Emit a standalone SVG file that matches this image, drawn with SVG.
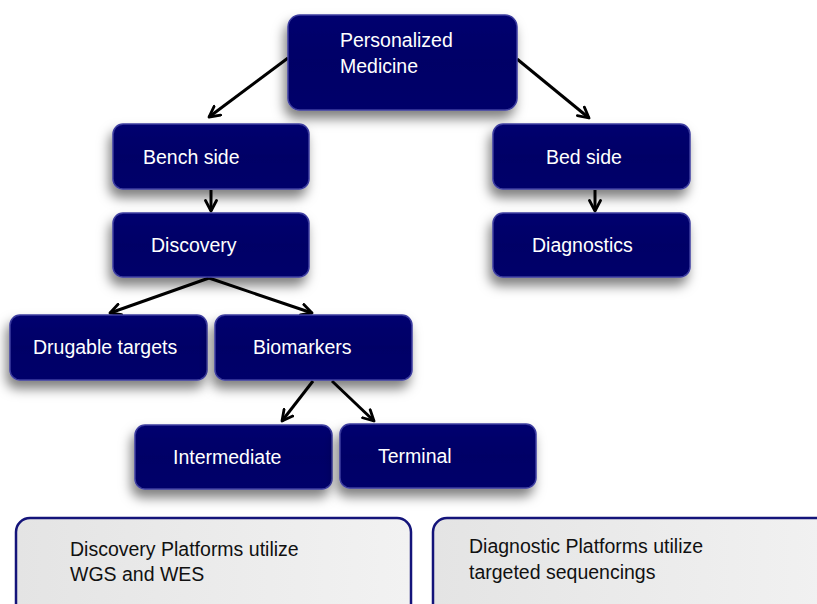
<svg xmlns="http://www.w3.org/2000/svg" width="817" height="604" viewBox="0 0 817 604">
<defs>
<filter id="sh" x="-20%" y="-25%" width="140%" height="170%">
<feDropShadow dx="-3" dy="8" stdDeviation="6" flood-color="#000" flood-opacity="0.5"/>
</filter>
<linearGradient id="navy" x1="0" y1="0" x2="0" y2="1">
<stop offset="0" stop-color="#06066f"/>
<stop offset="0.5" stop-color="#000066"/>
<stop offset="1" stop-color="#03036a"/>
</linearGradient>
<linearGradient id="gray" x1="0" y1="0" x2="1" y2="0">
<stop offset="0" stop-color="#e4e4e4"/>
<stop offset="1" stop-color="#f2f2f2"/>
</linearGradient>
<marker id="ah" viewBox="0 0 14 14" refX="12" refY="7" markerWidth="14" markerHeight="14" markerUnits="userSpaceOnUse" orient="auto">
<path d="M1.5,1.5 L12,7 L1.5,12.5" fill="none" stroke="#000" stroke-width="2.8" stroke-linecap="round" stroke-linejoin="round"/>
</marker>
</defs>
<style>
.n rect{fill:url(#navy);stroke:#3d3da0;stroke-width:1.5;filter:url(#sh)}
.n text{fill:#fff;font-family:"Liberation Sans",Arial,sans-serif;font-size:19.5px}
.p rect{fill:url(#gray);stroke:#14147a;stroke-width:2.5}
.p text{fill:#111;font-family:"Liberation Sans",Arial,sans-serif;font-size:19.5px}
.c line{stroke:#000;stroke-width:3;marker-end:url(#ah)}
</style>
<g class="c" id="connectors">
<line x1="288" y1="58" x2="209" y2="117"/>
<line x1="517" y1="59" x2="589" y2="118"/>
<line x1="211" y1="190" x2="211" y2="211"/>
<line x1="595" y1="190" x2="595" y2="211"/>
<line x1="209" y1="278" x2="110" y2="313"/>
<line x1="209" y1="278" x2="312" y2="313"/>
<line x1="313" y1="381" x2="282" y2="421"/>
<line x1="332" y1="381" x2="374" y2="421"/>
</g>
<g class="n" id="personalized"><rect x="288" y="15" width="229" height="95" rx="12"/><text x="340" y="47">Personalized</text><text x="340" y="73">Medicine</text></g>
<g class="n" id="bench"><rect x="113" y="124" width="196" height="65" rx="10"/><text x="143" y="164">Bench side</text></g>
<g class="n" id="bed"><rect x="493" y="124" width="197" height="65" rx="10"/><text x="546" y="164">Bed side</text></g>
<g class="n" id="discovery"><rect x="113" y="213" width="196" height="64" rx="10"/><text x="151" y="252">Discovery</text></g>
<g class="n" id="diagnostics"><rect x="493" y="213" width="197" height="64" rx="10"/><text x="532" y="252">Diagnostics</text></g>
<g class="n" id="drugable"><rect x="10" y="315" width="197" height="65" rx="10"/><text x="33" y="354">Drugable targets</text></g>
<g class="n" id="biomarkers"><rect x="215" y="315" width="197" height="65" rx="10"/><text x="253" y="354">Biomarkers</text></g>
<g class="n" id="intermediate"><rect x="135" y="425" width="197" height="64" rx="10"/><text x="173" y="464">Intermediate</text></g>
<g class="n" id="terminal"><rect x="340" y="424" width="196" height="64" rx="10"/><text x="378" y="463">Terminal</text></g>
<g class="p" id="discovery-platforms"><rect x="16" y="518" width="395" height="110" rx="14"/><text x="70" y="556">Discovery Platforms utilize</text><text x="70" y="581">WGS and WES</text></g>
<g class="p" id="diagnostic-platforms"><rect x="433" y="518" width="420" height="110" rx="14"/><text x="469" y="553">Diagnostic Platforms utilize</text><text x="469" y="579">targeted sequencings</text></g>
</svg>
